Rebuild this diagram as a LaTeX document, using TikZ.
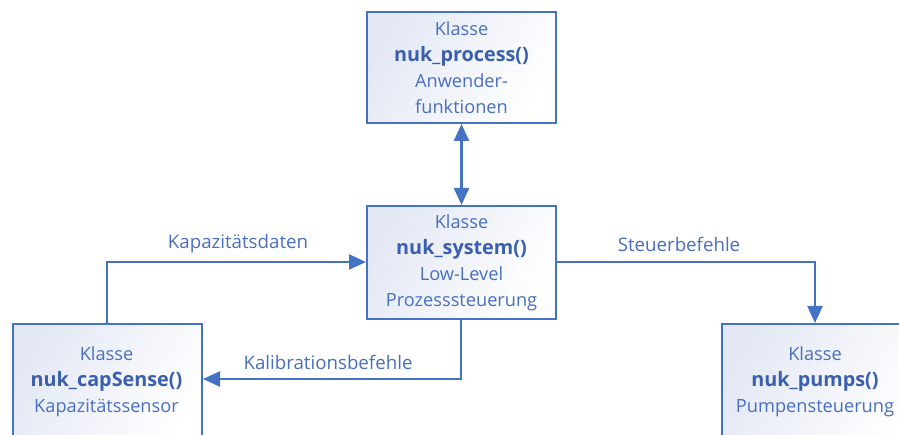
\documentclass[tikz,border=0pt]{standalone}
\usepackage{fontspec}
\setmainfont{Open Sans}
\usetikzlibrary{arrows.meta}
\definecolor{ublue}{HTML}{4472C4}
\definecolor{utext}{HTML}{4A6FBF}
\definecolor{ubold}{HTML}{3A5FAE}
\definecolor{ushade}{HTML}{E3E8F4}
\newcommand{\clsname}[1]{\textcolor{ubold}{\fontsize{19.8}{26}\selectfont\textbf{#1}}}
\begin{document}
\begin{tikzpicture}[x=1pt,y=-1pt,
  classbox/.style={draw=ublue, line width=2pt, shading=axis, left color=ushade, right color=white,
    shading angle=60, minimum width=189pt, anchor=north west, inner sep=0pt},
  flow/.style={draw=ublue, line width=2.4pt, -{Triangle[length=17pt,width=15pt]}},
  lbl/.style={text=utext, font=\fontsize{18.7}{21}\selectfont}]
\useasboundingbox (0,0) rectangle (899,435);
\tikzset{boxtext/.style={text=utext, align=center, font=\fontsize{18.2}{26}\selectfont}}
% class boxes
\node[classbox, minimum height=111pt] (proc) at (366,11) {};
\node[boxtext] at (proc.center) {Klasse\\\clsname{nuk\_process()}\\Anwender-\\funktionen};
\node[classbox, minimum height=113pt] (sys) at (366,205) {};
\node[boxtext] at (sys.center) {Klasse\\\clsname{nuk\_system()}\\Low-Level\\Prozesssteuerung};
\node[classbox, minimum height=130pt] (cap) at (12,323) {};
\node[boxtext, anchor=north] at (106.5,343) {Klasse\\\clsname{nuk\_capSense()}\\Kapazitätssensor};
\node[classbox, minimum height=130pt, minimum width=200pt] (pump) at (721,323) {};
\node[boxtext, anchor=north] at (815,343) {Klasse\\\clsname{nuk\_pumps()}\\Pumpensteuerung};
% connectors
\coordinate (capUp) at (107,262);
\coordinate (pumpTurn) at (815,262);
\coordinate (sysDown) at (461,379);
\draw[flow, {Triangle[length=17pt,width=15pt]}-{Triangle[length=17pt,width=15pt]}] (proc.south) -- (sys.north);
\draw[flow] (cap.north -| capUp) -- (capUp) -- (sys.west |- capUp);
\draw[flow] (sys.east |- pumpTurn) -- (pumpTurn) -- (pump.north -| pumpTurn);
\draw[flow] (sys.south -| sysDown) -- (sysDown) -- (cap.east |- sysDown);
% connector labels
\node[lbl] (l1) at (238,244) {Kapazitätsdaten};
\node[lbl] (l2) at (679,244) {Steuerbefehle};
\node[lbl] (l3) at (328,362) {Kalibrationsbefehle};
\end{tikzpicture}
\end{document}
